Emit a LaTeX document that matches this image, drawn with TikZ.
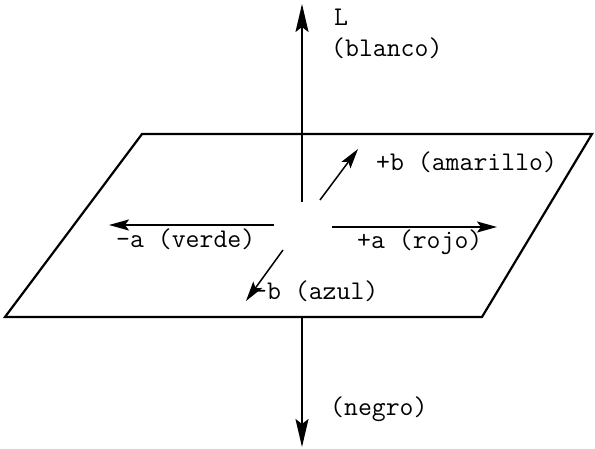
\documentclass[tikz,border=0pt]{standalone}
\usetikzlibrary{arrows.meta}
\begin{document}
\begin{tikzpicture}[x=1pt,y=-1pt,
  lbl/.style={font=\fontsize{27}{30}\selectfont\ttfamily, inner sep=0pt, anchor=west},
  edge/.style={line width=2.2pt},
  axis/.style={line width=1.8pt},
  vec/.style={line width=1.5pt, -{Stealth[length=20pt,width=11pt,inset=4pt]}}]
\useasboundingbox (0,0) rectangle (595,449);
% plane
\coordinate (p1) at (142,134);
\coordinate (p2) at (592,134);
\coordinate (p3) at (482,317);
\coordinate (p4) at (5,317);
\draw[edge, line join=miter] (p1) -- (p2) -- (p3) -- (p4) -- cycle;
% vertical axis
\coordinate (o1) at (302,202);
\coordinate (top) at (302,4);
\coordinate (o2) at (302,317);
\coordinate (bot) at (302,447);
\draw[axis, -{Stealth[length=28pt,width=13pt,inset=5pt]}] (o1) -- (top);
\draw[axis, -{Stealth[length=28pt,width=13pt,inset=5pt]}] (o2) -- (bot);
% vectors
\coordinate (bp0) at (320,200); \coordinate (bp1) at (358,149);
\coordinate (ap0) at (332,227); \coordinate (ap1) at (497,227);
\coordinate (am0) at (274,225); \coordinate (am1) at (109,225);
\coordinate (bm0) at (283,250); \coordinate (bm1) at (246,301);
\draw[vec] (bp0) -- (bp1);
\draw[vec] (ap0) -- (ap1);
\draw[vec] (am0) -- (am1);
\draw[vec] (bm0) -- (bm1);
% labels
\node[lbl] (L) at (334,17) {L};
\node[lbl] (blanco) at (331,48) {(blanco)};
\node[lbl] (amar) at (376,162) {+b (amarillo)};
\node[lbl] (rojo) at (357,242) {+a (rojo)};
\node[lbl] (verde) at (116,239) {-a (verde)};
\node[lbl] (azul) at (253,291) {-b (azul)};
\node[lbl] (negro) at (330,409) {(negro)};
\end{tikzpicture}
\end{document}
